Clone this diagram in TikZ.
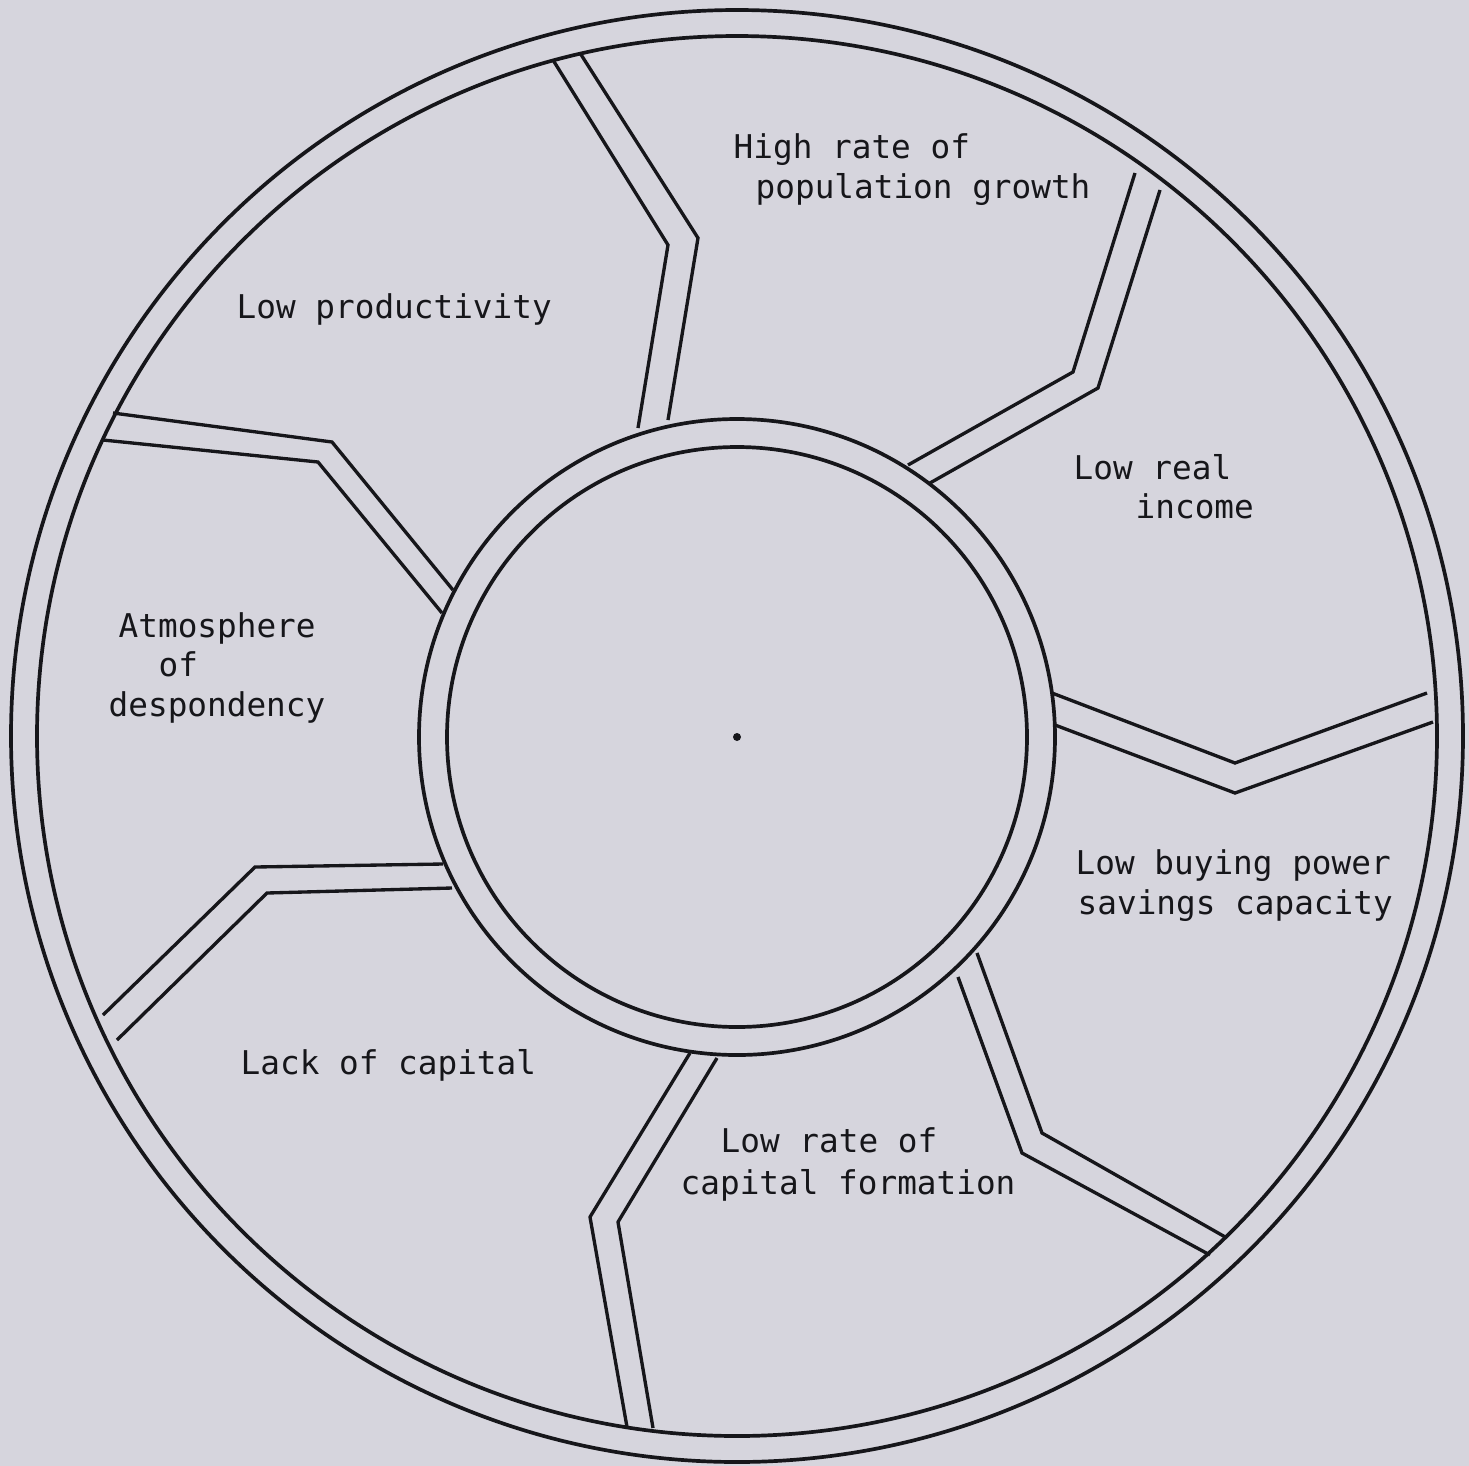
\documentclass[tikz,border=0pt]{standalone}
\usepackage{fontspec}
\setmonofont{DejaVu Sans Mono}
\definecolor{bg}{RGB}{214,213,221}
\definecolor{ink}{RGB}{22,22,26}
\tikzset{
  ring/.style={draw=ink, line width=1.05pt},
  spoke/.style={draw=ink, line width=0.95pt, line join=miter},
  lbl/.style={anchor=base west, inner sep=0pt, font=\ttfamily\fontsize{9.3}{10.8}\selectfont, text=ink}
}
\begin{document}
\begin{tikzpicture}[x=0.01cm,y=-0.01cm]
\fill[bg] (0,0) rectangle (1469,1466);
\useasboundingbox (0,0) rectangle (1469,1466);
% outer ring
\draw[ring] (737,736) circle[radius=726];
\draw[ring] (737,736) circle[radius=700];
% inner ring
\draw[ring] (737,737) circle[radius=318];
\draw[ring] (737,737) circle[radius=290];
% centre dot
\fill[ink] (737,737) circle[radius=4];
% spokes
\draw[spoke] (638,428) -- (668,245) -- (553,60);
\draw[spoke] (668,420) -- (698,238) -- (580,53);
\draw[spoke] (908,465) -- (1073,372) -- (1135,173);
\draw[spoke] (930,483) -- (1098,388) -- (1160,190);
\draw[spoke] (1052,693) -- (1235,763) -- (1427,693);
\draw[spoke] (1055,725) -- (1235,793) -- (1433,722);
\draw[spoke] (958,977) -- (1022,1153) -- (1210,1255);
\draw[spoke] (977,953) -- (1042,1133) -- (1227,1238);
\draw[spoke] (690,1053) -- (590,1217) -- (627,1427);
\draw[spoke] (717,1058) -- (618,1222) -- (653,1428);
\draw[spoke] (443,864) -- (255,867) -- (103,1015);
\draw[spoke] (452,888) -- (267,893) -- (117,1040);
\draw[spoke] (453,590) -- (332,442) -- (113,413);
\draw[spoke] (442,613) -- (318,462) -- (103,440);
% labels
\node[lbl] (lp)  at (236,318)  {Low productivity};
\node[lbl] (hr1) at (733,158)  {High rate of};
\node[lbl] (hr2) at (755,198)  {population growth};
\node[lbl] (lr1) at (1073,479) {Low real};
\node[lbl] (lr2) at (1135,518) {income};
\node[lbl] (at1) at (118,637)  {Atmosphere};
\node[lbl] (at2) at (158,676)  {of};
\node[lbl] (at3) at (108,716)  {despondency};
\node[lbl] (lb1) at (1075,874) {Low buying power};
\node[lbl] (lb2) at (1077,914) {savings capacity};
\node[lbl] (lc1) at (720,1152) {Low rate of};
\node[lbl] (lc2) at (680,1194) {capital formation};
\node[lbl] (lk)  at (240,1074) {Lack of capital};
\end{tikzpicture}
\end{document}
